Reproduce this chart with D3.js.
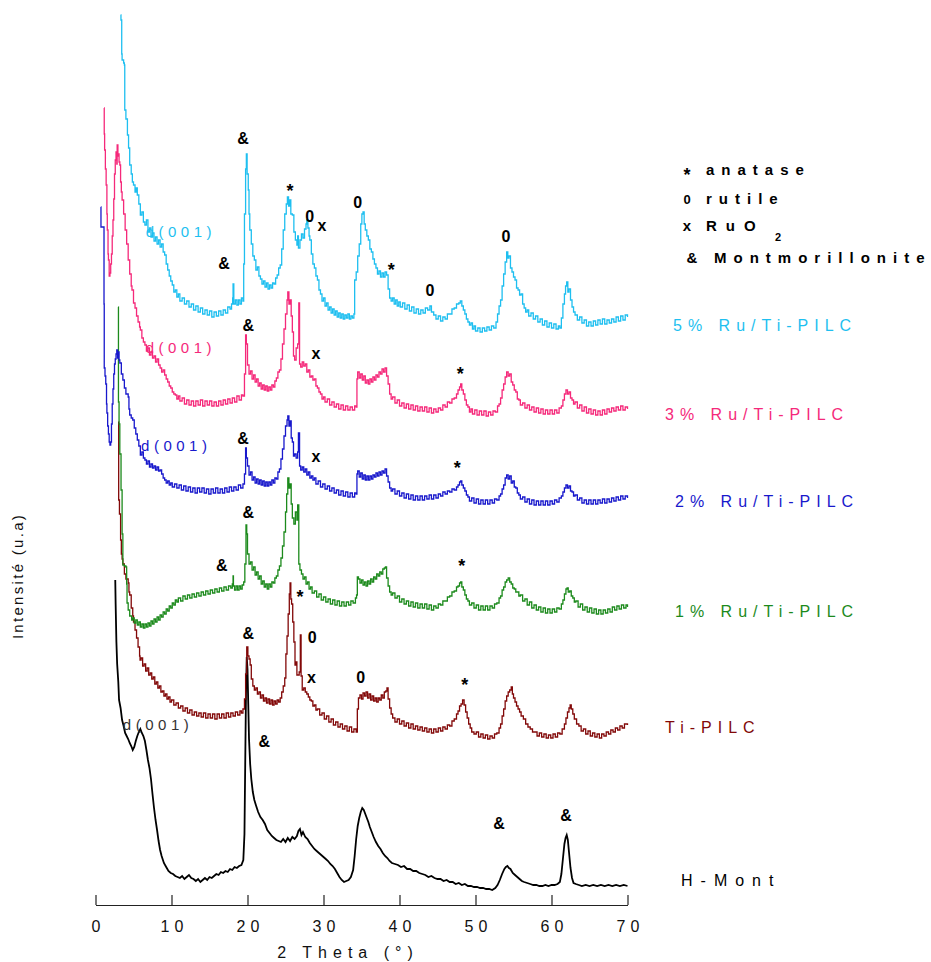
<!DOCTYPE html>
<html><head><meta charset="utf-8">
<script src="https://cdn.jsdelivr.net/npm/d3@7"></script>
<style>body{margin:0;background:#fff}text{font-family:"Liberation Sans",Arial,Helvetica,sans-serif}</style>
</head><body><svg id="c" width="931" height="962"></svg>
<script>
// ---------- data ----------
const thetaTicks = [0,10,20,30,40,50,60,70];
const seriesNames = ["5% Ru/Ti-PILC","3% Ru/Ti-PILC","2% Ru/Ti-PILC","1% Ru/Ti-PILC","Ti-PILC","H-Mont"];
const seriesColors = ["#1EBFF0","#F5297A","#1818CC","#1C8A1C","#820808","#000000"];

const ru5 = [[3.3,889],[3.35,884],[3.45,850],[3.5,844],[3.7,841],[3.8,839],[3.85,794],[4.0,785],[4.2,769],[4.35,756],[4.5,739],[4.7,730],[4.85,722],[5.0,719],[5.2,712],[5.35,716],[5.5,709],[5.7,700],[5.9,689],[6.1,692],[6.3,682],[6.5,679],[6.7,684],[6.9,672],[7.1,676],[7.3,667],[7.5,671],[7.7,663],[7.9,667],[8.1,660],[8.3,664],[8.5,657],[8.7,660],[8.9,652],[9.1,649],[9.3,640],[9.5,634],[9.7,628],[9.9,623],[10.1,619],[10.3,612],[10.5,614],[10.7,607],[10.9,610],[11.1,603],[11.4,606],[11.7,600],[12.0,603],[12.3,597],[12.6,600],[12.9,594],[13.2,598],[13.5,592],[13.8,596],[14.1,590],[14.4,594],[14.7,589],[15.0,593],[15.3,587],[15.6,592],[15.9,588],[16.2,593],[16.5,589],[16.8,594],[17.1,591],[17.4,597],[17.7,595],[17.9,600],[18.05,606],[18.1,620],[18.2,600],[18.4,604],[18.6,599],[18.8,604],[19.0,600],[19.2,606],[19.4,603],[19.5,640],[19.6,690],[19.75,735],[19.85,750],[19.95,730],[20.1,714],[20.2,690],[20.3,674],[20.5,660],[20.7,648],[20.9,644],[21.1,634],[21.3,637],[21.5,628],[21.7,625],[21.9,620],[22.1,623],[22.3,617],[22.5,621],[22.7,615],[22.9,619],[23.1,616],[23.3,621],[23.5,620],[23.7,626],[23.9,629],[24.1,636],[24.3,639],[24.5,655],[24.7,674],[24.9,690],[25.1,700],[25.25,707],[25.4,698],[25.55,704],[25.7,690],[25.9,689],[26.1,672],[26.3,664],[26.5,659],[26.6,668],[26.7,656],[26.9,664],[27.1,670],[27.3,666],[27.5,675],[27.7,680],[27.8,684],[27.95,676],[28.1,668],[28.2,664],[28.4,650],[28.6,640],[28.8,636],[29.0,628],[29.2,624],[29.4,614],[29.6,610],[29.8,603],[30.0,606],[30.2,598],[30.4,601],[30.6,594],[30.8,597],[31.0,591],[31.2,595],[31.4,589],[31.6,593],[31.8,587],[32.0,591],[32.2,586],[32.4,590],[32.6,585],[32.8,589],[33.0,586],[33.2,590],[33.4,585],[33.6,588],[33.8,586],[34.0,590],[34.1,624],[34.3,632],[34.5,648],[34.7,660],[34.9,680],[35.05,690],[35.2,692],[35.35,680],[35.5,674],[35.7,668],[35.9,664],[36.1,655],[36.3,652],[36.5,645],[36.7,640],[36.9,636],[37.1,630],[37.3,633],[37.5,627],[37.7,631],[37.9,627],[38.1,632],[38.3,629],[38.5,615],[38.7,606],[38.9,603],[39.1,606],[39.3,600],[39.5,604],[39.7,598],[39.9,602],[40.1,597],[40.4,601],[40.7,595],[41.0,599],[41.3,593],[41.6,597],[41.9,591],[42.2,595],[42.5,590],[42.8,594],[43.1,591],[43.4,596],[43.7,594],[44.0,598],[44.2,592],[44.5,589],[44.8,585],[45.1,588],[45.4,583],[45.7,587],[46.0,585],[46.3,590],[46.6,590],[46.9,595],[47.2,596],[47.5,600],[47.8,601],[48.0,603],[48.2,598],[48.4,594],[48.6,590],[48.8,585],[49.0,582],[49.2,579],[49.4,581],[49.6,575],[49.8,578],[50.0,573],[50.3,576],[50.6,572],[50.9,576],[51.2,573],[51.5,577],[51.8,574],[52.1,578],[52.4,576],[52.7,582],[52.9,590],[53.1,598],[53.3,604],[53.5,618],[53.7,630],[53.9,642],[54.1,652],[54.25,646],[54.4,648],[54.6,636],[54.8,632],[55.0,627],[55.2,624],[55.4,616],[55.6,614],[55.8,609],[56.0,610],[56.2,600],[56.4,596],[56.6,592],[56.8,594],[57.0,588],[57.3,591],[57.6,585],[57.9,588],[58.2,582],[58.5,585],[58.8,579],[59.1,583],[59.4,577],[59.7,581],[60.0,576],[60.3,580],[60.6,575],[60.9,578],[61.1,576],[61.3,586],[61.5,600],[61.7,610],[61.85,618],[62.0,622],[62.15,612],[62.3,615],[62.5,604],[62.7,597],[62.9,592],[63.1,589],[63.4,584],[63.7,587],[64.0,581],[64.3,584],[64.6,578],[64.9,582],[65.2,578],[65.5,583],[65.8,579],[66.1,584],[66.4,580],[66.7,585],[67.0,580],[67.3,584],[67.6,581],[67.9,585],[68.2,582],[68.5,587],[68.8,583],[69.1,588],[69.4,584],[69.7,589],[70.0,587]];

const ru3 = [[1.12,796],[1.15,770],[1.2,754],[1.3,735],[1.4,719],[1.5,690],[1.55,674],[1.65,650],[1.7,644],[1.8,628],[1.9,631],[2.0,640],[2.1,650],[2.2,668],[2.3,684],[2.4,705],[2.5,730],[2.6,744],[2.7,752],[2.8,740],[2.85,759],[2.95,748],[3.0,750],[3.1,742],[3.2,739],[3.3,722],[3.4,712],[3.5,704],[3.7,690],[3.9,674],[4.1,660],[4.3,644],[4.5,630],[4.7,618],[4.8,614],[5.0,601],[5.2,596],[5.4,588],[5.6,582],[5.8,577],[5.9,574],[6.1,566],[6.3,562],[6.5,559],[6.7,553],[6.9,556],[7.1,549],[7.3,552],[7.5,546],[7.7,548],[7.9,542],[8.1,545],[8.3,539],[8.5,536],[8.7,532],[8.9,534],[9.1,529],[9.3,525],[9.5,522],[9.7,518],[9.9,516],[10.1,512],[10.3,510],[10.5,509],[10.7,505],[10.9,508],[11.1,503],[11.4,506],[11.7,500],[12.0,504],[12.3,499],[12.6,503],[12.9,498],[13.2,503],[13.5,499],[13.8,504],[14.1,498],[14.4,503],[14.7,499],[15.0,503],[15.3,498],[15.6,502],[15.9,498],[16.2,503],[16.5,499],[16.8,504],[17.1,500],[17.4,505],[17.7,501],[18.0,506],[18.3,502],[18.6,508],[18.9,504],[19.2,509],[19.4,508],[19.6,530],[19.75,569],[19.85,560],[20.0,539],[20.2,530],[20.4,533],[20.6,525],[20.8,529],[21.0,522],[21.2,525],[21.4,518],[21.6,521],[21.8,515],[22.0,519],[22.2,514],[22.4,518],[22.6,513],[22.8,517],[23.0,514],[23.2,519],[23.4,517],[23.6,523],[23.8,526],[24.0,532],[24.2,534],[24.4,545],[24.6,560],[24.8,575],[25.0,590],[25.2,604],[25.3,612],[25.45,600],[25.6,604],[25.75,588],[25.9,572],[26.05,548],[26.2,544],[26.4,556],[26.6,560],[26.75,601],[26.8,601],[26.85,540],[27.0,537],[27.2,542],[27.4,538],[27.6,540],[27.8,532],[28.0,534],[28.2,527],[28.4,528],[28.6,524],[28.8,525],[29.0,518],[29.2,516],[29.4,512],[29.6,510],[29.8,505],[30.0,507],[30.2,502],[30.5,505],[30.8,499],[31.1,502],[31.4,497],[31.7,500],[32.0,495],[32.3,499],[32.6,494],[32.9,498],[33.2,494],[33.5,497],[33.8,494],[34.1,498],[34.3,497],[34.4,525],[34.5,532],[34.7,526],[34.9,530],[35.1,524],[35.3,528],[35.5,521],[35.7,524],[35.9,520],[36.1,525],[36.3,522],[36.5,527],[36.7,524],[36.9,529],[37.1,527],[37.3,532],[37.5,530],[37.7,535],[37.9,532],[38.1,536],[38.3,528],[38.5,520],[38.7,510],[38.9,505],[39.1,507],[39.4,501],[39.7,504],[40.0,498],[40.3,501],[40.6,496],[40.9,500],[41.2,495],[41.5,499],[41.8,494],[42.1,498],[42.4,493],[42.7,497],[43.0,493],[43.3,497],[43.6,492],[43.9,496],[44.2,491],[44.5,495],[44.8,492],[45.1,496],[45.4,494],[45.7,499],[46.0,497],[46.3,502],[46.6,501],[46.9,505],[47.2,506],[47.5,510],[47.7,514],[47.9,517],[48.05,520],[48.2,514],[48.4,510],[48.6,504],[48.8,499],[49.0,497],[49.2,492],[49.4,495],[49.6,490],[49.9,494],[50.2,489],[50.5,493],[50.8,489],[51.1,493],[51.4,488],[51.7,492],[52.0,489],[52.3,493],[52.6,492],[52.9,498],[53.1,500],[53.3,506],[53.5,514],[53.7,520],[53.9,527],[54.1,532],[54.3,528],[54.5,530],[54.7,522],[54.9,519],[55.1,514],[55.3,512],[55.5,505],[55.7,504],[55.9,499],[56.2,501],[56.5,496],[56.8,499],[57.1,494],[57.4,497],[57.7,492],[58.0,496],[58.3,491],[58.6,495],[58.9,490],[59.2,494],[59.5,490],[59.8,494],[60.1,490],[60.4,494],[60.7,491],[61.0,496],[61.3,498],[61.5,504],[61.7,510],[61.9,514],[62.1,510],[62.3,512],[62.5,506],[62.7,504],[62.9,500],[63.1,502],[63.4,496],[63.7,499],[64.0,493],[64.3,497],[64.6,491],[64.9,495],[65.2,490],[65.5,494],[65.8,489],[66.1,493],[66.4,489],[66.7,494],[67.0,490],[67.3,495],[67.6,492],[67.9,496],[68.2,493],[68.5,497],[68.8,494],[69.1,498],[69.4,494],[69.7,497],[70.0,495]];

const ru2 = [[0.7,697],[0.72,677],[1.1,677],[1.12,600],[1.15,536],[1.25,528],[1.35,520],[1.45,500],[1.5,491],[1.6,478],[1.7,470],[1.8,462],[1.9,459],[2.0,462],[2.1,480],[2.2,500],[2.3,515],[2.4,530],[2.5,540],[2.6,545],[2.7,550],[2.8,554],[2.9,546],[3.0,552],[3.1,544],[3.2,541],[3.4,530],[3.6,524],[3.8,516],[4.0,510],[4.3,507],[4.4,495],[4.5,489],[4.7,486],[4.9,484],[5.1,476],[5.3,470],[5.5,464],[5.7,458],[5.9,449],[6.1,452],[6.3,446],[6.5,444],[6.7,440],[6.9,443],[7.1,437],[7.3,440],[7.5,436],[7.7,438],[7.9,434],[8.1,437],[8.3,433],[8.5,434],[8.7,430],[8.9,426],[9.1,424],[9.3,421],[9.5,423],[9.7,419],[9.9,421],[10.1,417],[10.4,420],[10.7,416],[11.0,419],[11.3,414],[11.6,418],[11.9,413],[12.2,417],[12.5,412],[12.8,416],[13.1,411],[13.4,416],[13.7,412],[14.0,416],[14.3,411],[14.6,415],[14.9,410],[15.2,415],[15.5,411],[15.8,416],[16.1,411],[16.4,415],[16.7,411],[17.0,416],[17.3,412],[17.6,417],[17.9,413],[18.2,417],[18.5,414],[18.8,419],[19.1,416],[19.4,420],[19.6,430],[19.75,456],[19.85,446],[20.0,438],[20.2,429],[20.4,432],[20.6,424],[20.8,427],[21.0,421],[21.2,425],[21.4,420],[21.6,424],[21.8,419],[22.0,423],[22.2,418],[22.4,422],[22.6,418],[22.8,422],[23.0,419],[23.2,424],[23.4,421],[23.6,426],[23.8,425],[24.0,432],[24.2,435],[24.4,445],[24.6,455],[24.8,468],[25.0,478],[25.2,484],[25.3,488],[25.45,478],[25.6,483],[25.75,466],[25.9,462],[26.05,448],[26.2,450],[26.4,446],[26.6,452],[26.7,471],[26.8,471],[26.85,438],[27.0,434],[27.2,437],[27.4,432],[27.6,435],[27.8,429],[28.0,432],[28.2,426],[28.4,428],[28.6,424],[28.8,426],[29.0,420],[29.3,423],[29.6,417],[29.9,420],[30.2,415],[30.5,418],[30.8,413],[31.1,416],[31.4,411],[31.7,414],[32.0,409],[32.3,413],[32.6,408],[32.9,412],[33.2,407],[33.5,411],[33.8,407],[34.1,411],[34.3,410],[34.4,430],[34.5,433],[34.7,427],[34.9,431],[35.1,425],[35.3,429],[35.5,424],[35.7,428],[35.9,424],[36.1,428],[36.3,425],[36.5,429],[36.7,427],[36.9,431],[37.1,428],[37.3,432],[37.5,429],[37.7,433],[37.9,431],[38.1,435],[38.3,428],[38.5,422],[38.7,416],[38.9,413],[39.1,415],[39.4,410],[39.7,413],[40.0,408],[40.3,411],[40.6,406],[40.9,410],[41.2,405],[41.5,409],[41.8,404],[42.1,408],[42.4,404],[42.7,408],[43.0,404],[43.3,408],[43.6,405],[43.9,409],[44.2,405],[44.5,409],[44.8,406],[45.1,410],[45.4,408],[45.7,412],[46.0,410],[46.3,413],[46.6,412],[46.9,415],[47.2,414],[47.5,417],[47.7,419],[47.9,422],[48.05,423],[48.2,419],[48.4,416],[48.6,413],[48.8,409],[49.0,407],[49.2,403],[49.5,406],[49.8,401],[50.1,405],[50.4,400],[50.7,404],[51.0,400],[51.3,404],[51.6,400],[51.9,404],[52.2,401],[52.5,405],[52.8,404],[53.1,408],[53.3,410],[53.5,415],[53.7,419],[53.9,426],[54.1,429],[54.3,425],[54.5,428],[54.7,421],[54.9,423],[55.1,417],[55.3,416],[55.5,411],[55.7,409],[55.9,405],[56.2,407],[56.5,402],[56.8,405],[57.1,400],[57.4,404],[57.7,399],[58.0,403],[58.3,399],[58.6,403],[58.9,399],[59.2,403],[59.5,399],[59.8,403],[60.1,400],[60.4,404],[60.7,402],[61.0,406],[61.3,408],[61.5,412],[61.7,416],[61.9,419],[62.1,416],[62.3,418],[62.5,413],[62.7,412],[62.9,408],[63.1,409],[63.4,404],[63.7,406],[64.0,401],[64.3,404],[64.6,400],[64.9,404],[65.2,400],[65.5,404],[65.8,400],[66.1,404],[66.4,401],[66.7,405],[67.0,401],[67.3,405],[67.6,402],[67.9,406],[68.2,403],[68.5,407],[68.8,404],[69.1,408],[69.4,405],[69.7,408],[70.0,406]];

const ru1 = [[3.0,597],[3.02,502],[3.1,480],[3.2,450],[3.36,414],[3.5,370],[3.6,339],[3.8,338],[4.0,337],[4.1,320],[4.15,301],[4.3,294],[4.5,288],[4.76,284],[4.9,286],[5.1,281],[5.3,284],[5.5,279],[5.7,282],[5.9,277],[6.1,280],[6.3,276],[6.5,280],[6.7,277],[6.9,281],[7.1,278],[7.3,283],[7.5,280],[7.7,285],[7.9,282],[8.1,287],[8.3,284],[8.5,289],[8.7,287],[8.9,292],[9.1,290],[9.3,295],[9.5,293],[9.7,298],[9.9,296],[10.1,301],[10.3,299],[10.5,304],[10.7,302],[10.9,306],[11.2,303],[11.5,308],[11.8,305],[12.1,309],[12.4,306],[12.7,310],[13.0,307],[13.3,311],[13.6,308],[13.9,312],[14.2,309],[14.5,313],[14.8,310],[15.1,314],[15.4,311],[15.7,315],[16.0,312],[16.3,316],[16.6,313],[16.9,317],[17.2,314],[17.5,318],[17.8,316],[18.0,320],[18.1,328],[18.15,318],[18.3,314],[18.5,318],[18.7,314],[18.9,318],[19.1,315],[19.3,319],[19.5,322],[19.65,340],[19.8,379],[19.9,370],[20.0,350],[20.2,340],[20.4,342],[20.6,334],[20.8,337],[21.0,329],[21.2,332],[21.4,325],[21.6,328],[21.8,320],[22.0,323],[22.2,317],[22.4,320],[22.6,315],[22.8,320],[23.0,317],[23.2,322],[23.4,321],[23.6,326],[23.8,328],[24.0,334],[24.2,338],[24.4,346],[24.6,358],[24.8,372],[25.0,392],[25.15,410],[25.3,426],[25.45,416],[25.6,420],[25.75,400],[25.9,386],[26.1,380],[26.3,392],[26.5,384],[26.6,399],[26.7,399],[26.75,340],[26.9,334],[27.1,330],[27.3,325],[27.5,327],[27.7,320],[27.9,322],[28.1,315],[28.3,317],[28.5,311],[28.8,313],[29.1,307],[29.4,310],[29.7,304],[30.0,307],[30.3,302],[30.6,305],[30.9,300],[31.2,304],[31.5,299],[31.8,303],[32.1,298],[32.4,302],[32.7,298],[33.0,302],[33.3,299],[33.6,303],[33.9,301],[34.2,306],[34.35,309],[34.45,327],[34.6,325],[34.8,321],[35.0,324],[35.2,319],[35.4,322],[35.6,318],[35.8,323],[36.0,320],[36.2,325],[36.4,322],[36.6,327],[36.8,325],[37.0,330],[37.2,328],[37.4,332],[37.6,330],[37.8,335],[38.0,336],[38.15,337],[38.3,326],[38.5,318],[38.7,312],[38.9,309],[39.1,311],[39.4,306],[39.7,308],[40.0,302],[40.3,305],[40.6,300],[40.9,303],[41.2,298],[41.5,302],[41.8,297],[42.1,301],[42.4,296],[42.7,300],[43.0,296],[43.3,300],[43.6,295],[43.9,299],[44.2,294],[44.5,298],[44.8,296],[45.1,300],[45.4,299],[45.7,303],[46.0,303],[46.3,307],[46.6,308],[46.9,312],[47.2,313],[47.5,317],[47.7,318],[47.9,321],[48.05,322],[48.2,317],[48.4,314],[48.6,309],[48.8,305],[49.0,303],[49.2,299],[49.5,301],[49.8,296],[50.1,299],[50.4,294],[50.7,298],[51.0,294],[51.3,298],[51.6,294],[51.9,298],[52.2,296],[52.5,300],[52.8,301],[53.1,306],[53.3,308],[53.5,314],[53.7,317],[53.9,322],[54.1,324],[54.3,326],[54.5,322],[54.7,320],[54.9,316],[55.1,315],[55.3,312],[55.5,312],[55.7,308],[55.9,309],[56.2,303],[56.5,305],[56.8,299],[57.1,302],[57.4,296],[57.7,299],[58.0,294],[58.3,297],[58.6,292],[58.9,296],[59.2,291],[59.5,295],[59.8,291],[60.1,295],[60.4,292],[60.7,296],[61.0,295],[61.3,300],[61.5,304],[61.7,310],[61.9,315],[62.05,316],[62.2,312],[62.4,313],[62.6,308],[62.8,306],[63.0,302],[63.2,303],[63.5,297],[63.8,300],[64.1,294],[64.4,297],[64.7,292],[65.0,296],[65.3,291],[65.6,295],[65.9,290],[66.2,294],[66.5,290],[66.8,294],[67.1,291],[67.4,295],[67.7,292],[68.0,297],[68.3,294],[68.6,298],[68.9,295],[69.2,299],[69.5,296],[69.8,299],[70.0,297]];

const tipilc = [[3.0,482],[3.05,404],[3.15,390],[3.3,364],[3.4,350],[3.5,345],[3.6,340],[3.8,330],[4.0,325],[4.3,321],[4.4,312],[4.5,309],[4.7,296],[4.9,288],[5.0,282],[5.2,274],[5.4,266],[5.6,257],[5.8,248],[5.86,244],[6.0,246],[6.2,238],[6.4,240],[6.6,233],[6.8,236],[7.0,229],[7.2,231],[7.4,225],[7.6,227],[7.8,220],[8.0,222],[8.2,216],[8.4,218],[8.6,212],[8.8,213],[9.0,208],[9.2,210],[9.4,205],[9.6,207],[9.8,202],[10.0,204],[10.3,199],[10.6,201],[10.9,196],[11.2,198],[11.5,193],[11.8,196],[12.1,191],[12.4,194],[12.7,189],[13.0,192],[13.3,188],[13.6,191],[13.9,187],[14.2,191],[14.5,186],[14.8,190],[15.1,186],[15.4,190],[15.7,185],[16.0,190],[16.3,186],[16.6,190],[16.9,186],[17.2,191],[17.5,187],[17.8,191],[18.1,188],[18.4,192],[18.7,189],[19.0,193],[19.2,191],[19.4,195],[19.6,205],[19.75,230],[19.9,257],[20.05,248],[20.2,245],[20.35,239],[20.5,225],[20.7,218],[20.9,214],[21.1,216],[21.3,210],[21.5,212],[21.7,206],[21.9,209],[22.1,203],[22.3,206],[22.5,201],[22.7,205],[22.9,200],[23.1,204],[23.3,199],[23.5,203],[23.7,200],[23.9,204],[24.1,202],[24.3,206],[24.5,212],[24.7,218],[24.9,226],[25.05,250],[25.2,268],[25.35,290],[25.5,310],[25.6,321],[25.7,305],[25.8,300],[25.95,282],[26.1,262],[26.25,239],[26.4,242],[26.5,229],[26.8,232],[26.95,269],[27.0,269],[27.05,228],[27.2,214],[27.4,216],[27.6,212],[27.8,210],[28.0,207],[28.2,204],[28.4,203],[28.6,198],[28.8,199],[29.0,194],[29.2,195],[29.5,189],[29.8,191],[30.1,185],[30.4,188],[30.7,182],[31.0,185],[31.3,179],[31.6,182],[31.9,177],[32.2,180],[32.5,175],[32.8,178],[33.1,173],[33.4,177],[33.7,172],[34.0,175],[34.3,172],[34.45,195],[34.6,206],[34.8,209],[35.0,205],[35.2,211],[35.4,208],[35.6,212],[35.8,206],[36.0,210],[36.2,204],[36.4,208],[36.6,203],[36.8,206],[37.0,202],[37.2,206],[37.4,204],[37.6,209],[37.8,206],[38.0,212],[38.2,213],[38.35,216],[38.5,205],[38.7,196],[38.9,190],[39.1,186],[39.4,182],[39.7,185],[40.0,180],[40.3,183],[40.6,178],[40.9,181],[41.2,176],[41.5,180],[41.8,175],[42.1,178],[42.4,174],[42.7,177],[43.0,173],[43.3,176],[43.6,172],[43.9,175],[44.2,171],[44.5,175],[44.8,172],[45.1,176],[45.4,173],[45.7,177],[46.0,175],[46.3,179],[46.6,178],[46.9,183],[47.2,185],[47.5,190],[47.7,193],[47.9,198],[48.1,200],[48.3,204],[48.5,199],[48.7,192],[48.9,186],[49.1,180],[49.3,176],[49.5,172],[49.8,170],[50.1,172],[50.4,167],[50.7,170],[51.0,166],[51.3,169],[51.6,165],[51.9,168],[52.2,166],[52.5,170],[52.8,171],[53.1,176],[53.3,180],[53.5,188],[53.7,195],[53.9,203],[54.1,208],[54.3,212],[54.5,214],[54.7,217],[54.85,210],[55.0,206],[55.2,202],[55.4,198],[55.6,195],[55.8,192],[56.0,188],[56.3,185],[56.6,180],[56.9,177],[57.2,175],[57.5,172],[57.8,172],[58.1,168],[58.4,171],[58.7,167],[59.0,170],[59.3,166],[59.6,169],[59.9,166],[60.2,170],[60.5,167],[60.8,171],[61.1,170],[61.4,175],[61.7,180],[61.9,186],[62.1,192],[62.3,196],[62.45,199],[62.6,195],[62.8,190],[63.0,185],[63.3,180],[63.6,178],[63.9,173],[64.2,175],[64.5,170],[64.8,173],[65.1,168],[65.4,171],[65.7,167],[66.0,170],[66.3,166],[66.6,170],[66.9,168],[67.2,172],[67.5,170],[67.8,174],[68.1,172],[68.4,176],[68.7,174],[69.0,178],[69.3,176],[69.6,180],[70.0,179]];

const hmont = [[2.6,324],[2.65,300],[2.75,262],[2.85,240],[3.0,222],[3.1,204],[3.3,196],[3.5,184],[3.7,178],[3.9,171],[4.1,168],[4.3,165],[4.5,161],[4.7,158],[4.9,154],[5.1,157],[5.3,163],[5.5,168],[5.7,172],[5.9,175],[6.1,171],[6.3,168],[6.5,163],[6.7,154],[6.9,144],[7.1,136],[7.3,125],[7.5,110],[7.7,96],[7.9,84],[8.1,74],[8.3,63],[8.5,54],[8.7,48],[9.0,41],[9.3,37],[9.6,33],[9.9,31],[10.2,30],[10.5,28],[10.8,27],[11.1,26],[11.4,28],[11.7,25],[12.0,27],[12.3,29],[12.6,26],[12.9,25],[13.2,23],[13.5,25],[13.8,22],[14.1,24],[14.4,26],[14.7,24],[15.0,27],[15.3,26],[15.6,28],[15.9,30],[16.2,29],[16.5,32],[16.8,31],[17.1,33],[17.4,32],[17.7,35],[18.0,34],[18.3,37],[18.6,36],[18.9,38],[19.2,39],[19.45,44],[19.6,70],[19.7,140],[19.8,210],[19.9,247],[20.0,235],[20.1,200],[20.2,165],[20.35,140],[20.5,125],[20.7,112],[20.9,104],[21.1,99],[21.4,92],[21.7,87],[22.0,84],[22.3,80],[22.6,74],[22.9,71],[23.2,68],[23.5,66],[23.8,64],[24.1,63],[24.4,62],[24.7,65],[25.0,62],[25.3,66],[25.6,63],[25.9,67],[26.2,65],[26.5,68],[26.7,73],[26.9,75],[27.1,69],[27.3,72],[27.6,67],[27.9,65],[28.2,61],[28.5,58],[28.8,55],[29.1,53],[29.4,51],[29.7,49],[30.0,47],[30.3,45],[30.6,43],[30.9,40],[31.2,38],[31.5,35],[31.8,31],[32.1,27],[32.4,24],[32.7,22],[33.0,23],[33.3,24],[33.6,27],[33.9,34],[34.1,48],[34.3,65],[34.5,78],[34.7,86],[34.9,92],[35.1,96],[35.3,94],[35.5,90],[35.7,86],[35.9,82],[36.1,77],[36.3,73],[36.6,67],[36.9,62],[37.2,58],[37.5,55],[37.8,51],[38.1,48],[38.4,46],[38.7,43],[39.0,41],[39.4,40],[39.8,39],[40.2,37],[40.6,38],[41.0,35],[41.4,35],[41.8,33],[42.2,33],[42.6,31],[43.0,30],[43.4,29],[43.8,27],[44.2,28],[44.6,26],[45.0,25],[45.4,25],[45.8,23],[46.2,24],[46.6,22],[47.0,22],[47.4,20],[47.8,21],[48.2,19],[48.6,20],[49.0,18],[49.4,18],[49.8,17],[50.2,17],[50.6,16],[51.0,16],[51.4,15],[51.8,15],[52.2,14],[52.6,16],[52.9,19],[53.2,24],[53.5,30],[53.8,35],[54.0,37],[54.2,38],[54.4,36],[54.6,35],[54.9,31],[55.2,29],[55.5,27],[55.8,25],[56.1,23],[56.4,22],[56.8,21],[57.2,20],[57.6,19],[58.0,19],[58.4,18],[58.8,18],[59.2,19],[59.6,18],[60.0,19],[60.4,19],[60.8,20],[61.1,22],[61.3,30],[61.5,45],[61.7,60],[61.85,66],[62.0,69],[62.15,64],[62.3,52],[62.5,36],[62.7,26],[62.9,21],[63.2,20],[63.6,19],[64.0,18],[64.5,19],[65.0,18],[65.5,19],[66.0,18],[66.5,19],[67.0,18],[67.5,19],[68.0,18],[68.5,19],[69.0,18],[69.5,19],[70.0,18]];

// peak markers: [symbol, 2theta, intensity]
const markers = [
 ["&",19.4,766],["&",16.9,641],["*",25.6,718],["0",28.2,688],["x",29.8,679],["0",34.5,702],["*",38.9,639],["0",44.0,614],["0",54.0,668],
 ["&",20.1,579],["x",29.0,551],["*",48.0,535],
 ["&",19.4,466],["x",29.0,448],["*",47.6,441],
 ["&",20.1,392],["&",16.6,339],["*",48.2,343],
 ["*",26.9,312],["0",28.5,267],["x",28.4,227],["0",34.9,227],["*",48.6,224],["&",20.1,271],
 ["&",22.2,163],["&",53.1,81],["&",61.9,89]
];
// d(001) labels: [series index, 2theta, intensity]
const d001 = [[0,6.6,672],[1,6.6,556],[2,6.0,458],[5,3.6,179]];
const seriesLabelLevel = [579,490,403,293,177,24];
const legendItems = [["*","anatase"],["0","rutile"],["x","RuO"],["&","Montmorillonite"]];

// ---------- drawing ----------
const svg = d3.select("#c");
svg.append("rect").attr("width",931).attr("height",962).attr("fill","#fff");
const x = d3.scaleLinear().domain([0,70]).range([95.5,627.5]);
const y = d3.scaleLinear().domain([0,900]).range([904,4]);
const stepLine = d3.line().x(d=>x(d[0])).y(d=>y(d[1])).curve(d3.curveStepAfter);
const smoothLine = d3.line().x(d=>x(d[0])).y(d=>y(d[1]));

const series = [ru5,ru3,ru2,ru1,tipilc,hmont];
const order = [5,4,3,2,1,0];
order.forEach(i=>{
  svg.append("path").datum(series[i]).attr("d", i===5?smoothLine:stepLine)
    .attr("fill","none").attr("stroke",seriesColors[i])
    .attr("stroke-width", i===5?1.8:1.3);
});

// axis
const axis = d3.axisBottom(x).tickValues(thetaTicks).tickSize(-10).tickSizeOuter(0).tickPadding(16).tickFormat(d3.format("d"));
const gA = svg.append("g").attr("transform","translate(0,905)").call(axis);
gA.select(".domain").attr("stroke","#222").attr("stroke-width",1.2);
gA.selectAll(".tick line").attr("stroke","#222").attr("stroke-width",1.2);
gA.selectAll(".tick text").attr("font-size",16).attr("letter-spacing","5px").attr("dx","2.5px")
  .attr("fill","#111").style("font-family","'Liberation Sans',Arial,sans-serif");

svg.append("text").attr("x",348).attr("y",958).attr("text-anchor","middle")
  .attr("font-size",16).attr("letter-spacing","6px").attr("fill","#111").text("2 Theta (°)");

svg.append("text").attr("transform","translate(23,576) rotate(-90)").attr("text-anchor","middle")
  .attr("font-size",15).attr("letter-spacing","2.3px").attr("fill","#111").text("Intensité (u.a)");

// peak markers
svg.append("g").selectAll("text").data(markers).join("text")
  .attr("x",d=>x(d[1])).attr("y",d=>y(d[2]))
  .attr("dy",d=>d[0]==="*"?"0.62em":"0.35em")
  .attr("text-anchor","middle").attr("font-weight","bold")
  .attr("font-size",d=>d[0]==="*"?18:16).attr("fill","#000").text(d=>d[0]);

// d(001)
svg.append("g").selectAll("text").data(d001).join("text")
  .attr("x",d=>x(d[1])).attr("y",d=>y(d[2])).attr("dy","0.35em")
  .attr("font-size",15).attr("letter-spacing","4.5px")
  .attr("fill",d=>d[0]===5?"#333":seriesColors[d[0]]).text("d(001)");

// series labels
const labX = [673,665,675,675,665,681];
const labSp = [6,6,6,6,6,8];
svg.append("g").selectAll("text").data(seriesNames).join("text")
  .attr("x",(d,i)=>labX[i]).attr("y",(d,i)=>y(seriesLabelLevel[i])).attr("dy","0.35em")
  .attr("font-size",16).attr("letter-spacing",(d,i)=>labSp[i]+"px")
  .attr("fill",(d,i)=>seriesColors[i]).text(d=>d);

// legend
const lg = svg.append("g");
const legY = [170,199,226,258];
legendItems.forEach((it,i)=>{
  lg.append("text").attr("x",it[0]==="&"?692:687).attr("y",legY[i]).attr("dy",it[0]==="*"?"0.62em":"0.35em")
    .attr("text-anchor","middle").attr("font-weight","bold").attr("font-size",it[0]==="*"?18:(it[0]==="0"?13:15)).text(it[0]);
  lg.append("text").attr("x",it[0]==="&"?714:706).attr("y",legY[i]).attr("dy","0.35em")
    .attr("font-weight","bold").attr("font-size",15).attr("letter-spacing",it[0]==="x"?"9px":"7px").text(it[1]);
});
lg.append("text").attr("x",775).attr("y",237).attr("dy","0.35em").attr("font-weight","bold").attr("font-size",11).text("2");
</script></body></html>
